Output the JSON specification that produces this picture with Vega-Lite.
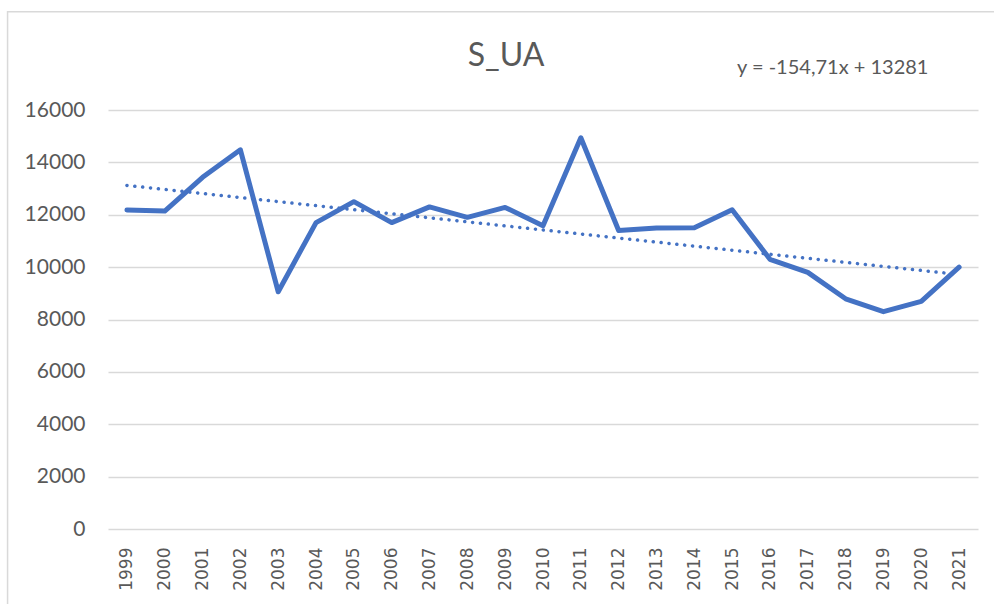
{
  "$schema": "https://vega.github.io/schema/vega-lite/v6.json",
  "autosize": "none",
  "width": 870,
  "height": 419,
  "padding": {"left": 108, "top": 110, "right": 16, "bottom": 75},
  "background": "white",
  "config": {"view": {"stroke": null}, "font": "Lato"},
  "title": {"text": "S_UA", "fontSize": 32, "font": "Lato", "fontWeight": "normal", "color": "#595959", "anchor": "middle", "dx": -37, "offset": -62},
  "data": {"values": [
    {"year": 1999, "value": 12180},
    {"year": 2000, "value": 12140},
    {"year": 2001, "value": 13430},
    {"year": 2002, "value": 14480},
    {"year": 2003, "value": 9060},
    {"year": 2004, "value": 11700},
    {"year": 2005, "value": 12500},
    {"year": 2006, "value": 11700},
    {"year": 2007, "value": 12300},
    {"year": 2008, "value": 11900},
    {"year": 2009, "value": 12280},
    {"year": 2010, "value": 11580},
    {"year": 2011, "value": 14940},
    {"year": 2012, "value": 11400},
    {"year": 2013, "value": 11490},
    {"year": 2014, "value": 11500},
    {"year": 2015, "value": 12190},
    {"year": 2016, "value": 10300},
    {"year": 2017, "value": 9800},
    {"year": 2018, "value": 8790},
    {"year": 2019, "value": 8300},
    {"year": 2020, "value": 8690},
    {"year": 2021, "value": 10000}
  ]},
  "encoding": {
    "x": {"field": "year", "type": "quantitative",
      "scale": {"domain": [1998.5, 2021.5], "nice": false, "zero": false},
      "axis": {"title": null, "values": [1999,2000,2001,2002,2003,2004,2005,2006,2007,2008,2009,2010,2011,2012,2013,2014,2015,2016,2017,2018,2019,2020,2021],
        "format": "d", "labelAngle": -90, "labelAlign": "right", "labelBaseline": "middle", "labelFont": "DejaVu Sans", "labelFontSize": 17, "labelColor": "#595959", "labelPadding": 18,
        "ticks": false, "domain": false, "grid": false, "labelFlush": false, "labelOverlap": false}},
    "y": {"field": "value", "type": "quantitative",
      "scale": {"domain": [0, 16000], "nice": false},
      "axis": {"title": null, "values": [0,2000,4000,6000,8000,10000,12000,14000,16000], "format": "d", "labelFont": "Lato", "labelFontSize": 21, "labelColor": "#595959", "labelPadding": 23,
        "ticks": false, "domain": false, "grid": true, "gridColor": "#d9d9d9", "gridWidth": 1.5}}
  },
  "layer": [
    {"transform": [{"filter": "datum.year == 2021"}],
     "mark": {"type": "rect", "fill": null, "stroke": "#d9d9d9", "strokeWidth": 1.5, "clip": false},
     "encoding": {"x": {"datum": 1995.845}, "x2": {"datum": 2026}, "y": {"datum": 19750}, "y2": {"datum": -4500}}},
    {"mark": {"type": "line", "color": "#4472C4", "strokeWidth": 5, "strokeJoin": "round", "strokeCap": "round"}},
    {"transform": [{"regression": "value", "on": "year"}],
     "mark": {"type": "line", "color": "#4472C4", "strokeWidth": 3.5, "strokeDash": [0.1, 7.8], "strokeCap": "round"}},
    {"transform": [{"filter": "datum.year == 2021"}],
     "mark": {"type": "text", "fontSize": 20, "fontWeight": 400, "color": "#595959", "font": "Lato", "clip": false, "align": "center", "baseline": "middle"},
     "encoding": {"x": {"datum": 2017.66}, "y": {"datum": 17610}, "text": {"value": "y = -154,71x + 13281"}}}
  ]
}
